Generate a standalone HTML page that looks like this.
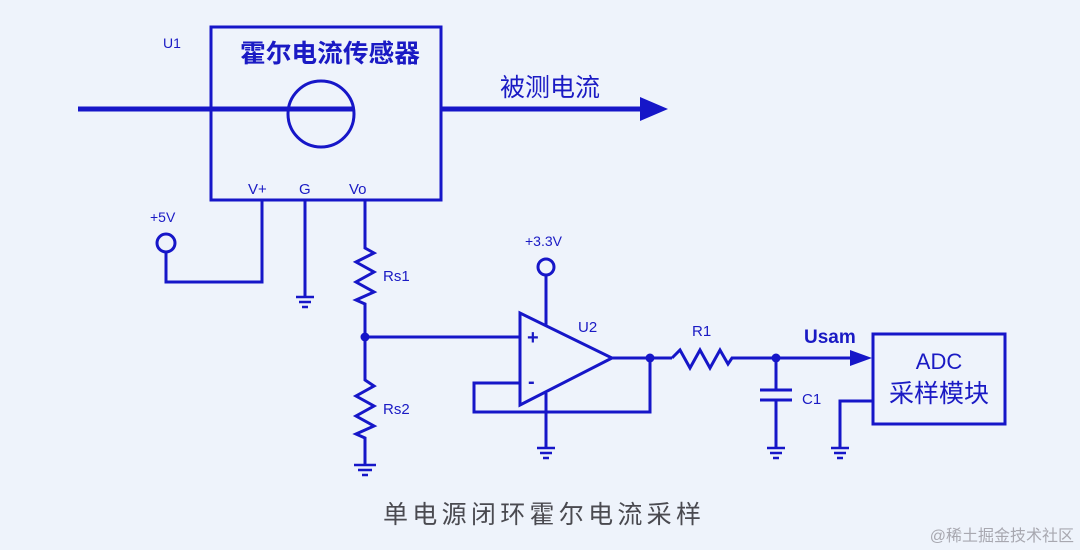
<!DOCTYPE html>
<html><head><meta charset="utf-8"><style>
html,body{margin:0;padding:0;background:#eef3fb;}
svg{display:block}
text{font-family:"Liberation Sans","Noto Sans CJK SC",sans-serif;fill:#1a1ac4}
</style></head><body>
<svg width="1080" height="550" viewBox="0 0 1080 550">
<rect width="1080" height="550" fill="#eef3fb"/>
<g stroke="#1616c8" stroke-width="3" fill="none">
<rect x="211" y="27" width="230" height="173"/>
<line x1="78" y1="109" x2="353" y2="109" stroke-width="5"/>
<line x1="441" y1="109" x2="642" y2="109" stroke-width="5"/>
<circle cx="321" cy="114" r="33"/>
<!-- V+ -->
<polyline points="262,200 262,282 166,282 166,252"/>
<circle cx="166" cy="243" r="9"/>
<!-- G -->
<line x1="305" y1="200" x2="305" y2="296"/>
<!-- Vo / Rs -->
<polyline points="365,200 365,248 374,253 356,262 374,272 356,282 374,292 356,300 365,304 365,380 374,386 356,396 374,406 356,416 374,426 356,434 365,438 365,464"/>
<line x1="365" y1="337" x2="520" y2="337"/>
<!-- opamp -->
<polygon points="520,313 520,405 612,358"/>
<polyline points="520,383 474,383 474,412 650,412 650,358"/>
<line x1="612" y1="358" x2="672" y2="358"/>
<circle cx="546" cy="267" r="8"/>
<line x1="546" y1="275" x2="546" y2="326"/>
<line x1="546" y1="393" x2="546" y2="447"/>
<!-- R1 -->
<polyline points="672,358 680,350 690,368 700,350 710,368 720,350 728,364 732,358 850,358"/>
<!-- C1 -->
<line x1="776" y1="358" x2="776" y2="390"/>
<line x1="760" y1="390" x2="792" y2="390"/>
<line x1="760" y1="400" x2="792" y2="400"/>
<line x1="776" y1="400" x2="776" y2="447"/>
<!-- ADC -->
<rect x="873" y="334" width="132" height="90"/>
<polyline points="873,401 840,401 840,447"/>
<!-- grounds -->
<g stroke-width="2.5">
<line x1="296" y1="297" x2="314" y2="297"/><line x1="299" y1="302" x2="311" y2="302"/><line x1="302" y1="307" x2="308" y2="307"/>
<line x1="354" y1="465" x2="376" y2="465"/><line x1="358" y1="470" x2="372" y2="470"/><line x1="362" y1="475" x2="368" y2="475"/>
<line x1="537" y1="448" x2="555" y2="448"/><line x1="540" y1="453" x2="552" y2="453"/><line x1="543" y1="458" x2="549" y2="458"/>
<line x1="767" y1="448" x2="785" y2="448"/><line x1="770" y1="453" x2="782" y2="453"/><line x1="773" y1="458" x2="779" y2="458"/>
<line x1="831" y1="448" x2="849" y2="448"/><line x1="834" y1="453" x2="846" y2="453"/><line x1="837" y1="458" x2="843" y2="458"/>
</g>
</g>
<g fill="#1616c8">
<polygon points="640,97 668,109 640,121"/>
<polygon points="850,350 872,358 850,366"/>
<circle cx="365" cy="337" r="4.5"/>
<circle cx="650" cy="358" r="4.5"/>
<circle cx="776" cy="358" r="4.5"/>
</g>
<text x="163" y="48" font-size="14">U1</text>
<text x="240" y="62" font-size="25" font-weight="bold" textLength="180" lengthAdjust="spacingAndGlyphs">霍尔电流传感器</text>
<text x="500" y="96" font-size="25">被测电流</text>
<text x="248" y="194" font-size="15">V+</text>
<text x="299" y="194" font-size="15">G</text>
<text x="349" y="194" font-size="15">Vo</text>
<text x="150" y="222" font-size="14">+5V</text>
<text x="383" y="281" font-size="15">Rs1</text>
<text x="383" y="414" font-size="15">Rs2</text>
<text x="525" y="246" font-size="14">+3.3V</text>
<text x="527" y="344" font-size="20" font-weight="bold">+</text>
<text x="528" y="388" font-size="20" font-weight="bold">-</text>
<text x="578" y="332" font-size="15">U2</text>
<text x="692" y="336" font-size="15">R1</text>
<text x="804" y="343" font-size="19" font-weight="bold">Usam</text>
<text x="802" y="404" font-size="15">C1</text>
<text x="939" y="369" font-size="22" text-anchor="middle">ADC</text>
<text x="939" y="402" font-size="25" text-anchor="middle">采样模块</text>
<text x="383" y="523" font-size="25" textLength="318" lengthAdjust="spacing" style="fill:#4a4a50">单电源闭环霍尔电流采样</text>
<text x="1074" y="541" font-size="16" text-anchor="end" style="fill:#a8a8b0">@稀土掘金技术社区</text>
</svg>
</body></html>
